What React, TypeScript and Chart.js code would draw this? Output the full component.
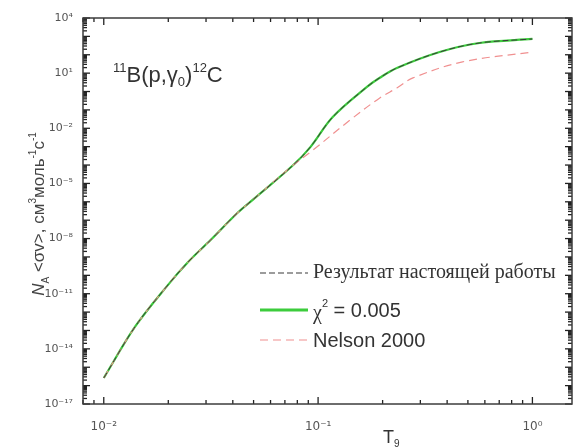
import React, { useEffect, useRef } from "react";
import { Chart, registerables } from "chart.js";

Chart.register(...registerables);

// ---- data ----
const T9_FIT = [0.01, 0.014, 0.0199, 0.025, 0.0315, 0.042, 0.05, 0.0766, 0.092, 0.117, 0.169, 0.194, 0.233, 0.369, 0.566, 1.0];
const FIT_VALUES = [2.6e-16, 1.6e-13, 2.95e-11, 6.0e-10, 8.3e-9, 2.45e-7, 1.4e-6, 1.0e-4, 9.5e-4, 4.1e-2, 1.78, 5.6, 19, 141, 436, 724];
const T9_PRESENT = [0.01, 0.014, 0.0199, 0.025, 0.0315, 0.042, 0.05, 0.0766, 0.092, 0.117, 0.169, 0.194, 0.233, 0.369, 0.566, 1.0];
const PRESENT_VALUES = [2.6e-16, 1.6e-13, 2.95e-11, 6.0e-10, 8.3e-9, 2.45e-7, 1.4e-6, 1.0e-4, 9.5e-4, 4.1e-2, 1.78, 5.6, 19, 141, 436, 724];
const T9_NELSON = [0.01, 0.014, 0.0199, 0.025, 0.0315, 0.042, 0.05, 0.0766, 0.092, 0.141, 0.194, 0.233, 0.277, 0.472, 1.0];
const NELSON_VALUES = [2.6e-16, 1.6e-13, 2.95e-11, 6.0e-10, 8.3e-9, 2.45e-7, 1.4e-6, 1.0e-4, 5.0e-4, 2.8e-2, 0.45, 1.55, 5.5, 41, 141];

const Y_TICK_EXPONENTS = [4, 1, -2, -5, -8, -11, -14, -17];
const X_TICK_EXPONENTS = [-2, -1, 0];
const LEGEND_LABELS = ["Результат настоящей работы", "χ² = 0.005", "Nelson 2000"];
const REACTION_LABEL = ["11", "B(p,γ", "0", ")", "12", "C"];
const X_TITLE = ["T", "9"];
const Y_TITLE = ["N", "A", " <σv>, см", "3", "моль", "-1", "с", "-1"];

const SUP: Record<string, string> = { "0": "⁰", "1": "¹", "2": "²", "3": "³", "4": "⁴", "5": "⁵", "6": "⁶", "7": "⁷", "8": "⁸", "9": "⁹", "-": "⁻" };
const toSup = (n: number) => String(n).split("").map((c) => SUP[c] ?? c).join("");

const toPoints = (xs: number[], ys: number[]) => xs.map((x, i) => ({ x, y: ys[i] }));

const COLORS = { fit: "#3ccc3c", present: "#3a3a3a", nelson: "#f09090", axis: "#3d3d3d", text: "#333" };

function drawRuns(ctx: CanvasRenderingContext2D, runs: { t: string; font: string; dy: number }[], x: number, y: number) {
  let cx = x;
  for (const r of runs) {
    ctx.font = r.font;
    ctx.fillText(r.t, cx, y + r.dy);
    cx += ctx.measureText(r.t).width;
  }
  return cx - x;
}
function runsWidth(ctx: CanvasRenderingContext2D, runs: { t: string; font: string }[]) {
  let w = 0;
  for (const r of runs) {
    ctx.font = r.font;
    w += ctx.measureText(r.t).width;
  }
  return w;
}

const decorPlugin = {
  id: "decor",
  afterDatasetsDraw(chart: any) {
    const { ctx, chartArea: a, scales } = chart;
    const xs = scales.x;
    const ys = scales.y;
    ctx.save();
    const seg = (x1: number, y1: number, x2: number, y2: number) => {
      ctx.beginPath();
      ctx.moveTo(x1, y1);
      ctx.lineTo(x2, y2);
      ctx.stroke();
    };
    // inward ticks
    ctx.strokeStyle = "#222";
    ctx.lineWidth = 1.3;
    for (let e = -17; e <= 4; e++) {
      for (let m = 1; m <= 9; m++) {
        const v = m * Math.pow(10, e);
        if (v < ys.min * 0.999 || v > ys.max * 1.001) continue;
        const y = ys.getPixelForValue(v);
        const len = m === 1 ? 7 : 4;
        seg(a.left, y, a.left + len, y);
        seg(a.right, y, a.right - len, y);
      }
    }
    for (let e = -3; e <= 0; e++) {
      for (let m = 1; m <= 9; m++) {
        const v = m * Math.pow(10, e);
        if (v < xs.min || v > xs.max) continue;
        const x = xs.getPixelForValue(v);
        const len = m === 1 ? 7 : 4;
        seg(x, a.bottom, x, a.bottom - len);
        seg(x, a.top, x, a.top + len);
      }
    }
    // frame
    ctx.strokeStyle = COLORS.axis;
    ctx.lineWidth = 1.5;
    ctx.strokeRect(a.left, a.top, a.right - a.left, a.bottom - a.top);

    ctx.fillStyle = COLORS.text;
    ctx.textBaseline = "alphabetic";
    ctx.textAlign = "left";
    // reaction label
    const big = "22px 'Liberation Sans', Arial, sans-serif";
    const small = "13px 'Liberation Sans', Arial, sans-serif";
    drawRuns(ctx, [
      { t: REACTION_LABEL[0], font: small, dy: -10 },
      { t: REACTION_LABEL[1], font: big, dy: 0 },
      { t: REACTION_LABEL[2], font: small, dy: 4 },
      { t: REACTION_LABEL[3], font: big, dy: 0 },
      { t: REACTION_LABEL[4], font: small, dy: -10 },
      { t: REACTION_LABEL[5], font: big, dy: 0 },
    ], a.left + 30, 82);

    // legend
    const lx1 = 260, lx2 = 308, tx = 313;
    const rows = [273, 310, 340];
    ctx.lineWidth = 1.2;
    ctx.strokeStyle = COLORS.present;
    ctx.setLineDash([6, 3]);
    seg(lx1, rows[0], lx2, rows[0]);
    ctx.setLineDash([]);
    ctx.lineWidth = 3;
    ctx.strokeStyle = COLORS.fit;
    seg(lx1, rows[1], lx2, rows[1]);
    ctx.lineWidth = 1.2;
    ctx.strokeStyle = COLORS.nelson;
    ctx.setLineDash([8, 5]);
    seg(lx1, rows[2], lx2, rows[2]);
    ctx.setLineDash([]);

    ctx.fillStyle = COLORS.text;
    ctx.font = "20px 'Liberation Serif', 'Times New Roman', serif";
    ctx.fillText(LEGEND_LABELS[0], tx, rows[0] + 5);
    const sans20 = "20px 'Liberation Sans', Arial, sans-serif";
    const chi = LEGEND_LABELS[1];
    drawRuns(ctx, [
      { t: chi.slice(0, 1), font: "20px 'Liberation Serif', serif", dy: 2 },
      { t: "2", font: "11px 'Liberation Sans', Arial, sans-serif", dy: -10 },
      { t: chi.slice(2), font: sans20, dy: 0 },
    ], tx, rows[1] + 7);
    ctx.font = sans20;
    ctx.fillText(LEGEND_LABELS[2], tx, rows[2] + 7);

    // x title
    drawRuns(ctx, [
      { t: X_TITLE[0], font: "18px 'Liberation Sans', Arial, sans-serif", dy: 0 },
      { t: X_TITLE[1], font: "10px 'Liberation Sans', Arial, sans-serif", dy: 4 },
    ], 383, 443);

    // y title (rotated)
    const f = "17px 'Liberation Sans', Arial, sans-serif";
    const fi = "italic 17px 'Liberation Sans', Arial, sans-serif";
    const fs = "10px 'Liberation Sans', Arial, sans-serif";
    const yRuns = [
      { t: Y_TITLE[0], font: fi, dy: 0 },
      { t: Y_TITLE[1], font: fs, dy: 5 },
      { t: Y_TITLE[2], font: f, dy: 0 },
      { t: Y_TITLE[3], font: fs, dy: -8 },
      { t: Y_TITLE[4], font: f, dy: 0 },
      { t: Y_TITLE[5], font: fs, dy: -8 },
      { t: Y_TITLE[6], font: f, dy: 0 },
      { t: Y_TITLE[7], font: fs, dy: -8 },
    ];
    const w = runsWidth(ctx, yRuns);
    ctx.translate(44, 214);
    ctx.rotate(-Math.PI / 2);
    ctx.fillStyle = "#444";
    drawRuns(ctx, yRuns, -w / 2, 0);
    ctx.restore();
  },
};

export default function App() {
  const ref = useRef<HTMLCanvasElement | null>(null);
  useEffect(() => {
    if (!ref.current) return;
    const chart = new Chart(ref.current, {
      type: "line",
      data: {
        datasets: [
          {
            label: LEGEND_LABELS[0],
            data: toPoints(T9_PRESENT, PRESENT_VALUES),
            borderColor: COLORS.present,
            borderWidth: 1,
            borderDash: [6, 3],
            pointRadius: 0,
            tension: 0.35,
            order: 0,
          },
          {
            label: LEGEND_LABELS[1],
            data: toPoints(T9_FIT, FIT_VALUES),
            borderColor: COLORS.fit,
            borderWidth: 2.2,
            pointRadius: 0,
            tension: 0.35,
            order: 2,
          },
          {
            label: LEGEND_LABELS[2],
            data: toPoints(T9_NELSON, NELSON_VALUES),
            borderColor: COLORS.nelson,
            borderWidth: 1.2,
            borderDash: [8, 5],
            pointRadius: 0,
            tension: 0.35,
            order: 1,
          },
        ],
      },
      options: {
        animation: false,
        responsive: true,
        maintainAspectRatio: false,
        layout: { padding: { top: 18, right: 4, left: 0, bottom: 0 } },
        plugins: { legend: { display: false }, tooltip: { enabled: false } },
        scales: {
          x: {
            type: "logarithmic",
            min: 0.008,
            max: 1.53,
            grid: { display: false, drawTicks: false },
            border: { display: false },
            ticks: {
              padding: 16,
              color: "#555",
              font: { size: 12, family: "'DejaVu Sans', sans-serif" },
              maxRotation: 0,
              autoSkip: false,
              callback: (v: any) => "10" + toSup(Math.round(Math.log10(Number(v)))),
            },
            afterBuildTicks: (s: any) => {
              s.ticks = X_TICK_EXPONENTS.map((e) => ({ value: Math.pow(10, e) }));
            },
            afterFit: (s: any) => {
              s.height = 44;
              s.paddingLeft = 0;
              s.paddingRight = 0;
            },
          },
          y: {
            type: "logarithmic",
            min: 1e-17,
            max: 1e4,
            grid: { display: false, drawTicks: false },
            border: { display: false },
            ticks: {
              padding: 10,
              color: "#555",
              font: { size: 11, family: "'DejaVu Sans', sans-serif" },
              autoSkip: false,
              callback: (v: any) => "10" + toSup(Math.round(Math.log10(Number(v)))),
            },
            afterBuildTicks: (s: any) => {
              s.ticks = Y_TICK_EXPONENTS.map((e) => ({ value: Math.pow(10, e) }));
            },
            afterFit: (s: any) => {
              s.width = 83;
              s.paddingTop = 0;
              s.paddingBottom = 0;
            },
          },
        },
      },
      plugins: [decorPlugin],
    });
    return () => chart.destroy();
  }, []);
  return (
    <div style={{ position: "fixed", left: 0, top: 0, width: 576, height: 448, background: "#fff" }}>
      <canvas ref={ref} />
    </div>
  );
}
